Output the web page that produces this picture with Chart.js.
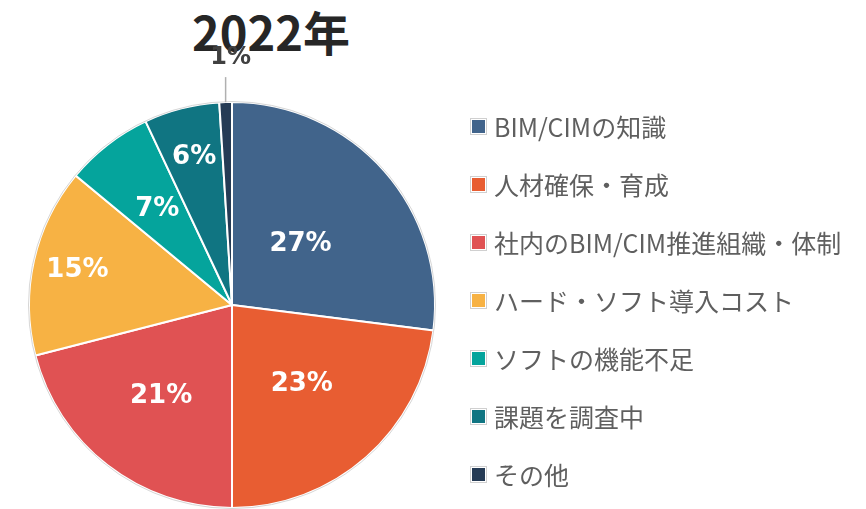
<!DOCTYPE html>
<html>
<head>
<meta charset="utf-8">
<script src="https://cdn.jsdelivr.net/npm/chart.js@4/dist/chart.umd.min.js"></script>
<style>
  body { margin: 0; background: #fff; }
  #wrap { position: relative; width: 866px; height: 509px; overflow: hidden; }
  #pieChart { position: absolute; left: 0; top: 0; z-index: 1; }
  #title { position: absolute; left: 0; width: 542px; top: 1px; text-align: center; z-index: 0;
    font: bold 47px "Noto Sans CJK JP", sans-serif; color: #262626; line-height: 60px; }
  #legend { position: absolute; left: 471px; top: 97px; margin: 0; padding: 0; list-style: none; z-index: 2; }
  #legend li { height: 58px; line-height: 58px; font: 25px "Noto Sans CJK JP", sans-serif;
    color: #5f5f5f; white-space: nowrap; display: flex; align-items: center; }
  #legend .box { display: inline-block; width: 13px; height: 13px; border: 1px solid #fff;
    outline: 1px solid #d0d0d0; margin-right: 8px; }
</style>
</head>
<body>
<div id="wrap">
  <div id="title">2022年</div>
  <canvas id="pieChart" width="866" height="509"></canvas>
  <ul id="legend"></ul>
</div>
<script>
// データ
const categories = ['BIM/CIMの知識', '人材確保・育成', '社内のBIM/CIM推進組織・体制', 'ハード・ソフト導入コスト', 'ソフトの機能不足', '課題を調査中', 'その他'];
const shares = [27, 23, 21, 15, 7, 6, 1];
const colors = ['#41648B', '#E85D32', '#E05253', '#F7B244', '#05A49C', '#107582', '#253B55'];

// ラベルの位置 (半径に対する割合)
const labelRadius = [0.45, 0.52, 0.57, 0.78, 0.6, 0.75, null];

// 凡例
const legend = document.getElementById('legend');
categories.forEach((name, i) => {
  const li = document.createElement('li');
  li.innerHTML = '<span class="box" style="background:' + colors[i] + '"></span>' + name;
  legend.appendChild(li);
});

const labelPlugin = {
  id: 'sliceLabels',
  afterDatasetsDraw(chart) {
    const ctx = chart.ctx;
    const arcs = chart.getDatasetMeta(0).data;
    ctx.save();
    // 外周の線
    const a0 = arcs[0];
    ctx.beginPath();
    ctx.arc(a0.x, a0.y, a0.outerRadius + 0.5, 0, Math.PI * 2);
    ctx.strokeStyle = '#d6d6d6';
    ctx.lineWidth = 1;
    ctx.stroke();

    ctx.textAlign = 'center';
    ctx.textBaseline = 'middle';
    arcs.forEach((arc, i) => {
      const mid = (arc.startAngle + arc.endAngle) / 2;
      const text = shares[i] + '%';
      const f = labelRadius[i];
      if (f) {
        ctx.fillStyle = '#fff';
        ctx.font = 'bold 26px "DejaVu Sans", sans-serif';
        ctx.fillText(text, arc.x + Math.cos(mid) * arc.outerRadius * f, arc.y + Math.sin(mid) * arc.outerRadius * f);
      } else {
        // 外側ラベル + 引出線
        const ex = arc.x + Math.cos(mid) * arc.outerRadius;
        const ey = arc.y + Math.sin(mid) * arc.outerRadius;
        ctx.beginPath();
        ctx.moveTo(ex, ey);
        ctx.lineTo(ex, ey - 25);
        ctx.strokeStyle = '#b0b0b0';
        ctx.lineWidth = 1.5;
        ctx.stroke();
        ctx.fillStyle = '#404040';
        ctx.font = 'bold 24px "DejaVu Sans", sans-serif';
        ctx.fillText(text, ex + 5, ey - 44);
      }
    });
    ctx.restore();
  }
};

new Chart(document.getElementById('pieChart'), {
  type: 'pie',
  data: {
    labels: categories,
    datasets: [{
      data: shares,
      backgroundColor: colors,
      borderColor: '#fff',
      borderWidth: 2
    }]
  },
  options: {
    responsive: false,
    animation: false,
    layout: { padding: { left: 28, right: 430, top: 101, bottom: 0 } },
    plugins: {
      legend: { display: false },
      tooltip: { enabled: false }
    }
  },
  plugins: [labelPlugin]
});
</script>
</body>
</html>
